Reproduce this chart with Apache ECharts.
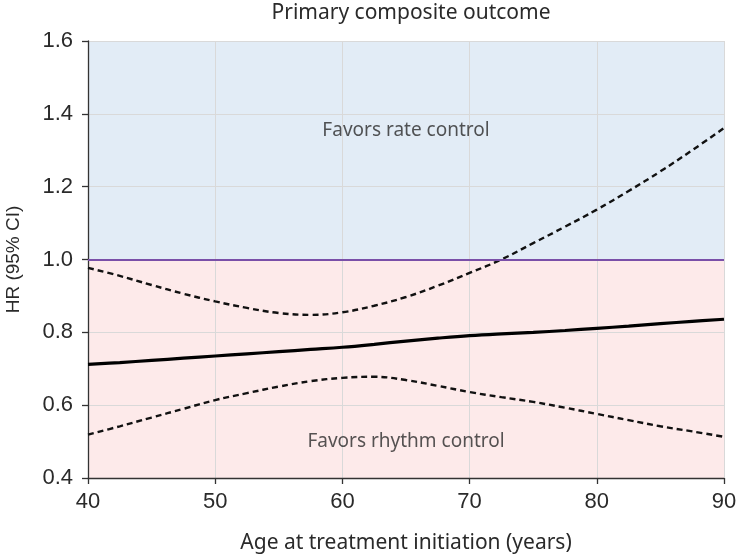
<!DOCTYPE html>
<html>
<head>
<meta charset="utf-8">
<script src="https://cdn.jsdelivr.net/npm/echarts@6/dist/echarts.min.js"></script>
<style>html,body{margin:0;padding:0;background:#fff}#c{width:737px;height:558px}</style>
</head>
<body>
<div id="c"></div>
<script>
var ages = [40,42.5,45,47.5,50,52.5,55,57.5,60,62.5,65,67.5,70,72.5,75,77.5,80,82.5,85,87.5,90];
var hr    = [0.712,0.717,0.723,0.729,0.735,0.741,0.747,0.753,0.759,0.767,0.776,0.784,0.791,0.796,0.800,0.805,0.811,0.817,0.824,0.830,0.836];
var upper = [0.977,0.955,0.930,0.906,0.885,0.867,0.853,0.848,0.855,0.873,0.897,0.928,0.963,1.000,1.045,1.090,1.137,1.188,1.242,1.300,1.361];
var lower = [0.519,0.542,0.566,0.590,0.614,0.633,0.651,0.666,0.675,0.678,0.669,0.653,0.636,0.622,0.609,0.593,0.576,0.559,0.542,0.528,0.513];
var xTicks = [40,50,60,70,80,90];
var yTicks = [0.4,0.6,0.8,1.0,1.2,1.4,1.6];
var refValue = 1.0;
var annotations = [
  {text:'Favors rate control', x:65, y:1.353},
  {text:'Favors rhythm control', x:65, y:0.501}
];
var titleText = 'Primary composite outcome';
var xName = 'Age at treatment initiation (years)';
var yName = 'HR (95% CI)';

function pairs(v){ return ages.map(function(a,i){ return [a, v[i]]; }); }

var tickFont = "'Liberation Sans', Arial, sans-serif";
var textFont = "'Noto Sans', 'Open Sans', sans-serif";
var chart = echarts.init(document.getElementById('c'), null, {renderer:'canvas'});
chart.setOption({
  animation:false,
  title:{text:titleText, left:406, top:-2, textAlign:'center',
    textStyle:{fontFamily:textFont, fontSize:21, fontWeight:'normal', color:'#2a2a2a'}},
  grid:{left:88, right:13, top:41, bottom:80, containLabel:false, outerBoundsMode:'none'},
  xAxis:{type:'value', min:xTicks[0], max:xTicks[xTicks.length-1], interval:10, z:2,
    name:xName, nameLocation:'middle', nameGap:55,
    nameTextStyle:{fontFamily:textFont, fontSize:21, color:'#2a2a2a'},
    axisLine:{show:true, onZero:false, lineStyle:{color:'#333', width:1.3}},
    axisTick:{show:true, length:6, lineStyle:{color:'#333', width:1.3}},
    axisLabel:{margin:13, fontFamily:tickFont, fontSize:22, color:'#2a2a2a'},
    splitLine:{show:true, lineStyle:{color:'#d9d9d9', width:1}}},
  yAxis:{type:'value', min:yTicks[0], max:yTicks[yTicks.length-1], interval:0.2, z:2,
    name:yName, nameLocation:'middle', nameGap:65, nameRotate:90,
    nameTextStyle:{fontFamily:tickFont, fontSize:19, color:'#2a2a2a'},
    axisLine:{show:true, onZero:false, lineStyle:{color:'#333', width:1.3}},
    axisTick:{show:true, length:6, lineStyle:{color:'#333', width:1.3}},
    axisLabel:{margin:15, fontFamily:tickFont, fontSize:22, color:'#2a2a2a',
      formatter:function(v){ return v.toFixed(1); }},
    splitLine:{show:true, lineStyle:{color:'#d9d9d9', width:1}}},
  series:[
    {type:'line', z:0, data:[], silent:true,
      markArea:{silent:true, z:0, data:[
        [{yAxis:refValue, itemStyle:{color:'#e2ecf6'}},{yAxis:yTicks[yTicks.length-1]}],
        [{yAxis:yTicks[0], itemStyle:{color:'#fdeaea'}},{yAxis:refValue}]
      ]}},
    {type:'line', z:3, data:[], silent:true,
      markLine:{silent:true, symbol:'none', label:{show:false},
        lineStyle:{color:'#7a4fa8', width:2.2, type:'solid'},
        data:[{yAxis:refValue}]}},
    {type:'line', z:4, data:pairs(upper), smooth:0.4, showSymbol:false,
      lineStyle:{color:'#111', width:2.4, type:[6,4]}},
    {type:'line', z:4, data:pairs(lower), smooth:0.4, showSymbol:false,
      lineStyle:{color:'#111', width:2.4, type:[6,4]}},
    {type:'line', z:5, data:pairs(hr), smooth:0.4, showSymbol:false,
      lineStyle:{color:'#000', width:3.2}},
    {type:'scatter', z:6, symbolSize:0, silent:true,
      data:annotations.map(function(a){ return {value:[a.x,a.y], name:a.text}; }),
      label:{show:true, position:'inside', formatter:'{b}',
        fontFamily:textFont, fontSize:19, color:'#2a2a2a'}}
  ]
});
</script>
</body>
</html>
